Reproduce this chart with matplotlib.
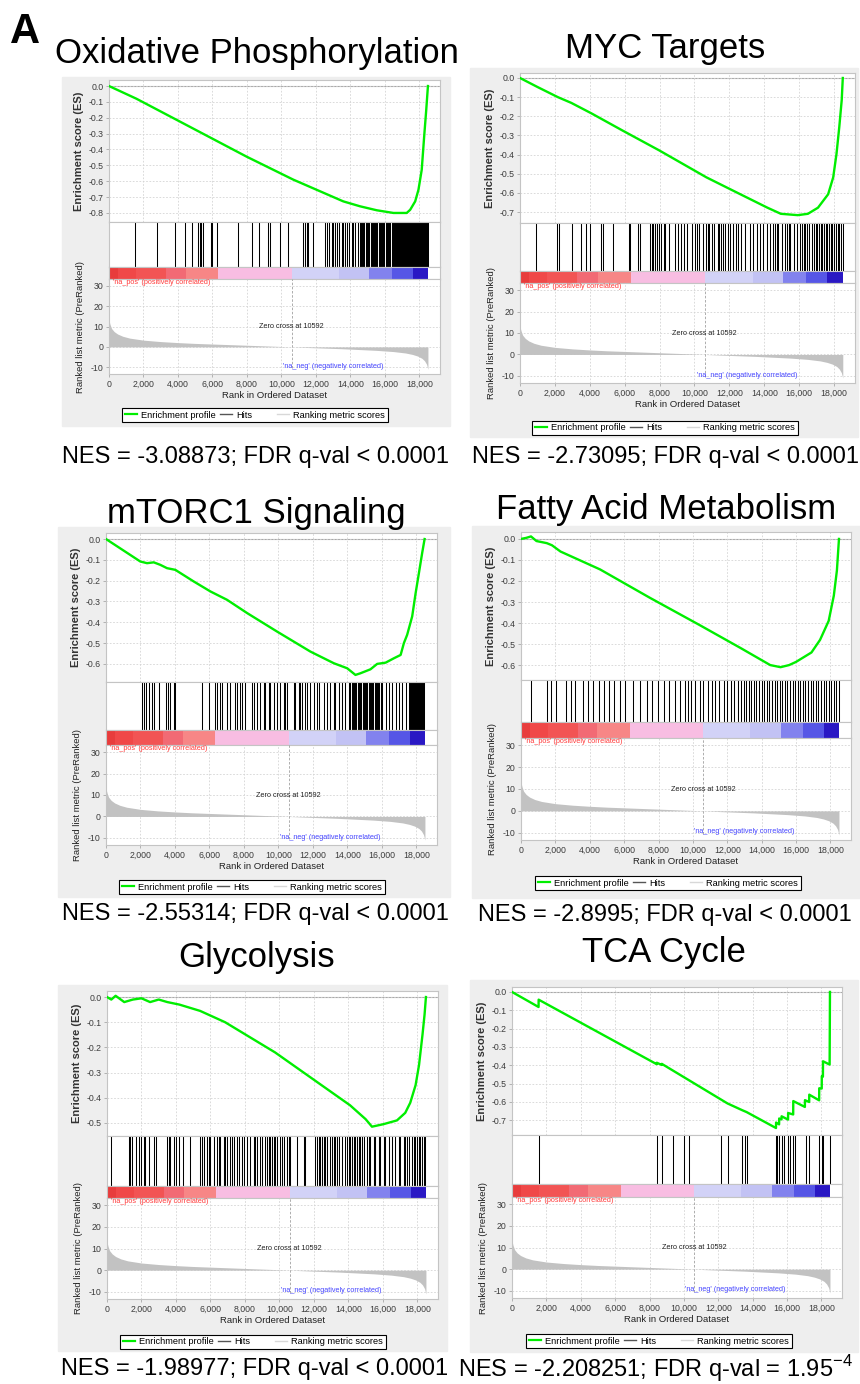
import matplotlib
matplotlib.use("Agg")
import numpy as np
import matplotlib.pyplot as plt
from matplotlib.lines import Line2D
from matplotlib.patches import Rectangle
from matplotlib.ticker import FuncFormatter

plt.rcParams["font.family"] = ["Liberation Sans", "DejaVu Sans"]
plt.rcParams["axes.unicode_minus"] = False
plt.rcParams["mathtext.fontset"] = "custom"
plt.rcParams["mathtext.rm"] = "Liberation Sans"

W, H = 860, 1384

# ranked list shared by every gene set
N_GENES = 18500
ZERO_CROSS = 10592
RANK_TICKS = [0, 2000, 4000, 6000, 8000, 10000, 12000, 14000, 16000, 18000]
METRIC_TICKS = [30, 20, 10, 0, -10]
metric_rank = [0, 60, 150, 300, 500, 800, 1200, 2000, 3000, 4000, 5000, 6000, 7000,
               8000, 9000, 10000, 10592, 11500, 12500, 13500, 14500, 15500, 16500,
               17200, 17600, 17900, 18150, 18300, 18420, 18500]
metric_value = [13.0, 11.0, 9.0, 7.5, 6.3, 5.2, 4.3, 3.3, 2.6, 2.1, 1.7, 1.4, 1.1,
                0.8, 0.5, 0.2, 0.0, -0.3, -0.6, -0.9, -1.3, -1.7, -2.3,
                -3.0, -3.7, -4.5, -5.6, -6.8, -8.5, -11.0]

# heat bar under the hits
bar_edges = [0, 520, 1550, 3290, 4450, 6350, 10592, 13350, 15100, 16400, 17620, 18500]
bar_colors = ["#e83c3c", "#f04848", "#f25454", "#f26a74", "#f78686", "#f8bde2",
              "#d2d2f7", "#c2c2f4", "#8282ee", "#5656e6", "#2a18c4"]

# ---- Oxidative Phosphorylation ----
oxphos_es_rank = [0, 1590, 4690, 7980, 10690, 13590, 14560, 15530, 16500, 17270,
                  17470, 17760, 17950, 18140, 18280, 18400, 18500]
oxphos_es = [0.0, -0.08, -0.257, -0.445, -0.59, -0.727, -0.758, -0.783, -0.80, -0.80,
             -0.78, -0.727, -0.654, -0.528, -0.32, -0.153, 0.0]
oxphos_hits = [1490, 2790, 3850, 4430, 4840, 5170, 5270, 5360, 5460, 5910, 5980, 6270,
               7460, 8310, 8710, 9240, 9330, 9910, 10360, 11270, 11370, 11460, 11560,
               11810, 12530, 12630, 12780, 12920, 13010, 13110, 13210, 13360, 13500,
               13590, 13690, 13790, 13940, 14080, 14180, 14270, 14470, 14540, 14600,
               14680, 14750, 14810, 14900, 14960, 15030, 15100, 15170, 15230, 15300,
               15380, 15440, 15500, 15570, 15640, 15700, 15780, 15850, 15910, 15980,
               16050, 16120, 16180, 16250, 16320, 16390, 16450, 16520, 16580, 16640,
               16700, 16760, 16810, 16870, 16920, 16980, 17030, 17080, 17140, 17190,
               17240, 17300, 17350, 17400, 17450, 17500, 17550, 17600, 17650, 17700,
               17750, 17800, 17850, 17900, 17950, 18000, 18050, 18100, 18150, 18200,
               18250, 18300, 18350, 18400, 18450, 18500]

# ---- MYC Targets ----
myc_es_rank = [0, 1000, 2170, 2940, 4100, 5850, 7980, 10690, 12630, 14180, 14950,
               15920, 16500, 17080, 17660, 17950, 18140, 18300, 18440, 18500]
myc_es = [0.0, -0.047, -0.10, -0.13, -0.185, -0.273, -0.378, -0.519, -0.607, -0.677,
          -0.709, -0.716, -0.709, -0.677, -0.607, -0.519, -0.396, -0.255, -0.114, 0.0]
myc_hits = [930, 2130, 2230, 3000, 3490, 3780, 4030, 4650, 4740, 5330, 6240, 6330,
            6780, 6870, 7460, 7550, 7650, 7750, 7840, 7940, 8090, 8230, 8330, 8520,
            8910, 9060, 9200, 9390, 9590, 9880, 10030, 10170, 10260, 10460, 10650,
            10750, 10840, 10980, 11130, 11330, 11430, 11520, 11660, 11770, 11910,
            12010, 12200, 12390, 12490, 12680, 12880, 13170, 13360, 13560, 13750,
            13940, 14140, 14330, 14480, 14620, 14720, 14810, 15010, 15200, 15300,
            15400, 15490, 15690, 15880, 16070, 16170, 16270, 16360, 16460, 16560,
            16750, 16850, 16940, 17040, 17140, 17240, 17330, 17430, 17530, 17620,
            17720, 17820, 17910, 18010, 18110, 18200, 18300, 18400, 18490]

# ---- mTORC1 Signaling ----
mtorc1_es_rank = [0, 1990, 2380, 2770, 3150, 3540, 4020, 5090, 6060, 7020, 8190,
                  9930, 11860, 13220, 13990, 14470, 14760, 15340, 15730, 16220, 16700,
                  17090, 17280, 17470, 17760, 17960, 18150, 18340, 18480]
mtorc1_es = [0.0, -0.108, -0.116, -0.112, -0.124, -0.14, -0.148, -0.204, -0.252,
             -0.292, -0.356, -0.445, -0.541, -0.597, -0.621, -0.653, -0.645, -0.626,
             -0.60, -0.594, -0.573, -0.557, -0.50, -0.46, -0.372, -0.26, -0.164,
             -0.067, 0.0]
mtorc1_hits = [2090, 2190, 2340, 2480, 2670, 2770, 3060, 3500, 3580, 3730, 3930, 4020,
               5570, 5960, 6350, 6440, 6600, 6730, 7020, 7220, 7510, 7600, 7800, 7890,
               8090, 8480, 8570, 8770, 8960, 9150, 9250, 9440, 9540, 9730, 9930, 10120,
               10310, 10410, 10510, 10890, 10990, 11180, 11280, 11380, 11570, 11670,
               11860, 12060, 12250, 12350, 12640, 12830, 13020, 13220, 13310, 13510,
               13700, 13890, 14090, 14180, 14250, 14320, 14390, 14460, 14530, 14600,
               14670, 14740, 14810, 14880, 14950, 15020, 15090, 15160, 15230, 15300,
               15370, 15440, 15510, 15580, 15650, 15720, 15790, 15860, 15930, 16020,
               16220, 16410, 16600, 16800, 16990, 17180, 17380, 17570, 17630, 17690,
               17750, 17810, 17870, 17930, 17990, 18050, 18110, 18170, 18230, 18290,
               18350, 18410, 18470]

# ---- Fatty Acid Metabolism ----
fatty_es_rank = [0, 300, 580, 900, 1500, 1800, 2300, 4600, 7500, 10400, 12800, 14500,
                 15100, 15600, 16000, 16500, 16900, 17400, 17900, 18200, 18380, 18500]
fatty_es = [0.0, 0.005, 0.012, -0.01, -0.02, -0.03, -0.06, -0.145, -0.28, -0.41, -0.52,
            -0.60, -0.61, -0.60, -0.585, -0.56, -0.54, -0.48, -0.39, -0.27, -0.15, 0.0]
fatty_hits = [580, 1510, 1750, 2040, 2620, 2910, 3140, 3610, 3900, 4190, 4540, 4830,
              5120, 5410, 5760, 6050, 6520, 6920, 7330, 7620, 7970, 8320, 8610, 8960,
              9250, 9540, 9700, 9900, 10100, 10400, 10600, 10900, 11100, 11300, 11500,
              11800, 12000, 12200, 12400, 12600, 12800, 12950, 13100, 13250, 13400,
              13550, 13700, 13850, 14000, 14150, 14300, 14450, 14600, 14750, 14900,
              15050, 15200, 15350, 15500, 15650, 15800, 15950, 16100, 16250, 16400,
              16550, 16700, 16850, 17000, 17150, 17300, 17450, 17600, 17750, 17900,
              18050, 18200, 18350, 18480]

# ---- Glycolysis ----
glyco_es_rank = [0, 250, 500, 1000, 1500, 2000, 2500, 3000, 3500, 4200, 5400, 6850,
                 8300, 9750, 11200, 12650, 14100, 15000, 15370, 16040, 16820,
                 17300, 17590, 17900, 18100, 18300, 18420, 18500]
glyco_es = [0.0, -0.01, 0.005, -0.02, -0.01, -0.005, -0.02, -0.01, -0.02, -0.03,
            -0.055, -0.10, -0.16, -0.22, -0.29, -0.36, -0.43, -0.485, -0.515,
            -0.505, -0.49, -0.46, -0.42, -0.35, -0.27, -0.15, -0.07, 0.0]
glyco_hits = [250, 1260, 1350, 1450, 1700, 1840, 1970, 2130, 2220, 2420, 2710, 2860,
              3480, 3580, 3670, 3870, 4020, 4160, 4410, 4790, 5370, 5510, 5610, 5800,
              5900, 5990, 6190, 6380, 6480, 6570, 6770, 6860, 6960, 7150, 7250, 7350,
              7540, 7640, 7830, 7930, 8120, 8310, 8510, 8600, 8700, 8850, 8990, 9180,
              9280, 9380, 9470, 9570, 9670, 9760, 9860, 10050, 10150, 10250, 10440,
              10540, 10630, 11020, 11410, 11500, 12080, 12180, 12280, 12370, 12470,
              12570, 12660, 12760, 12950, 13050, 13150, 13240, 13340, 13440, 13630,
              13820, 13920, 14020, 14110, 14210, 14300, 14400, 14500, 14600, 14690,
              14790, 14890, 15080, 15170, 15270, 15460, 15560, 15750, 15850, 16040,
              16140, 16330, 16530, 16720, 16910, 17010, 17200, 17300, 17400, 17490,
              17690, 17780, 17880, 17980, 18070, 18170, 18270, 18360, 18460]

# ---- TCA Cycle ----
tca_es_rank = [0, 1545, 1550, 8420, 8425, 8710, 8715, 12540, 13400, 13650, 15360,
               15365, 15540, 15545, 15680, 15685, 16060, 16065, 16360, 16365, 17040,
               17045, 17290, 17295, 17870, 17875, 18020, 18025, 18090, 18095, 18480,
               18500]
tca_es = [0.0, -0.082, -0.042, -0.394, -0.386, -0.398, -0.392, -0.608, -0.645, -0.655,
          -0.742, -0.712, -0.722, -0.69, -0.695, -0.678, -0.696, -0.66, -0.668, -0.595,
          -0.627, -0.59, -0.60, -0.56, -0.591, -0.525, -0.527, -0.46, -0.462, -0.378,
          -0.396, 0.0]
tca_hits = [1550, 8430, 8720, 9360, 9980, 10270, 12150, 12550, 13410, 13560, 13700,
            15360, 15440, 15550, 15690, 15850, 16080, 16180, 16370, 16470, 17090,
            17300, 17880, 18020, 18110, 18500]

titles = ["Oxidative Phosphorylation", "MYC Targets", "mTORC1 Signaling",
          "Fatty Acid Metabolism", "Glycolysis", "TCA Cycle"]
nes_labels = ["NES = -3.08873; FDR q-val < 0.0001",
              "NES = -2.73095; FDR q-val < 0.0001",
              "NES = -2.55314; FDR q-val < 0.0001",
              "NES = -2.8995; FDR q-val < 0.0001",
              "NES = -1.98977; FDR q-val < 0.0001",
              r"NES = -2.208251; FDR q-val = 1.95$^{\mathregular{-4}}$"]
es_ranks = [oxphos_es_rank, myc_es_rank, mtorc1_es_rank, fatty_es_rank,
            glyco_es_rank, tca_es_rank]
es_values = [oxphos_es, myc_es, mtorc1_es, fatty_es, glyco_es, tca_es]
hit_sets = [oxphos_hits, myc_hits, mtorc1_hits, fatty_hits, glyco_hits, tca_hits]
es_lowest_tick = [-0.8, -0.7, -0.6, -0.6, -0.5, -0.7]

# pixel layout of each panel
layouts = [
    dict(box=(62, 77, 450, 426), x=(109, 440), es=(80, 222), hits=267, bar=279,
         met=374, legend=(255, 415), title=(257, 63), nes=(255, 463),
         ylim=(-0.857, 0.038)),
    dict(box=(470, 68, 858, 437), x=(520, 855), es=(73, 223), hits=271, bar=283,
         met=383, legend=(665, 428), title=(665, 58), nes=(665, 463),
         ylim=(-0.757, 0.026)),
    dict(box=(58, 527, 450, 897), x=(106, 437), es=(533, 682), hits=730, bar=745,
         met=845, legend=(252, 887), title=(256, 523), nes=(255, 920),
         ylim=(-0.687, 0.029)),
    dict(box=(472, 526, 860, 898), x=(521, 851), es=(532, 680), hits=722, bar=738,
         met=840, legend=(668, 883), title=(666, 519), nes=(665, 921),
         ylim=(-0.671, 0.033)),
    dict(box=(58, 985, 447, 1351), x=(107, 438), es=(991, 1136), hits=1186, bar=1198,
         met=1299, legend=(253, 1342), title=(257, 967), nes=(255, 1375),
         ylim=(-0.552, 0.024)),
    dict(box=(470, 980, 858, 1352), x=(512, 842), es=(987, 1135), hits=1184, bar=1197,
         met=1298, legend=(659, 1341), title=(664, 962), nes=(655, 1377),
         ylim=(-0.78, 0.027)),
]

XLIM = (0, 19200)
GRID = dict(color="#d4d4d4", linestyle=(0, (2, 2)), linewidth=0.6)
SPINE = "#c4c4c4"
TICK_TXT = "#3c3c3c"


def rect(l, t, r, b):
    return [l / W, 1 - b / H, (r - l) / W, (b - t) / H]


def style_axes(ax):
    for s in ax.spines.values():
        s.set_color(SPINE)
        s.set_linewidth(0.8)
    ax.tick_params(labelsize=6.3, labelcolor=TICK_TXT, length=2, width=0.5,
                   color="#9a9a9a", pad=2)
    ax.set_xlim(*XLIM)


def draw_panel(fig, lay, title, nes, es_x, es_y, hits, low_tick):
    bl, bt, br, bb = lay["box"]
    fig.add_artist(Rectangle((bl / W, 1 - bb / H), (br - bl) / W, (bb - bt) / H,
                             transform=fig.transFigure, color="#eeeeee", zorder=0))
    xl, xr = lay["x"]
    es_top, es_bot = lay["es"]

    # running enrichment score
    ax = fig.add_axes(rect(xl, es_top, xr, es_bot))
    style_axes(ax)
    ax.set_ylim(*lay["ylim"])
    ax.set_yticks(np.round(np.arange(0, low_tick - 0.05, -0.1), 1))
    ax.yaxis.set_major_formatter(FuncFormatter(lambda v, p: f"{v:.1f}"))
    ax.set_xticks(RANK_TICKS)
    ax.tick_params(axis="x", labelbottom=False, length=0)
    ax.grid(True, **GRID)
    ax.axhline(0, color="#a8a8a8", linewidth=0.8, zorder=1)
    ax.plot(es_x, es_y, color="#00ee00", linewidth=1.7, zorder=3)
    ax.set_ylabel("Enrichment score (ES)", fontsize=8, fontweight="bold",
                  color="#333333", labelpad=3)

    # gene set members along the ranking
    axh = fig.add_axes(rect(xl, es_bot, xr, lay["hits"]))
    style_axes(axh)
    axh.vlines(hits, 0, 1, color="black", linewidth=0.75)
    axh.set_ylim(0, 1)
    axh.set_xticks([])
    axh.set_yticks([])

    axb = fig.add_axes(rect(xl, lay["hits"], xr, lay["bar"]))
    style_axes(axb)
    for e0, e1, c in zip(bar_edges[:-1], bar_edges[1:], bar_colors):
        axb.axvspan(e0, e1, color=c, linewidth=0)
    axb.set_xticks([])
    axb.set_yticks([])

    # ranked list metric
    axm = fig.add_axes(rect(xl, lay["bar"], xr, lay["met"]))
    style_axes(axm)
    axm.set_ylim(-13.3, 33.3)
    axm.set_yticks(METRIC_TICKS)
    axm.set_xticks(RANK_TICKS)
    axm.xaxis.set_major_formatter(FuncFormatter(lambda v, p: f"{int(v):,}"))
    axm.grid(True, **GRID)
    axm.fill_between(metric_rank, metric_value, 0, color="#c2c2c2", linewidth=0,
                     zorder=2)
    axm.vlines(ZERO_CROSS, -10.5, 33.3, color="#a0a0a0", linewidth=0.6,
               linestyles=(0, (3, 2)), zorder=3)
    axm.text(250, 31.5, "'na_pos' (positively correlated)", color="#ff3a3a",
             fontsize=5.2, va="center", ha="left")
    axm.text(ZERO_CROSS, 9.8, "Zero cross at 10592", color="#222222", fontsize=5.2,
             ha="center", va="center")
    axm.text(13000, -9.6, "'na_neg' (negatively correlated)", color="#4646ff",
             fontsize=5.2, ha="center", va="center")
    axm.set_xlabel("Rank in Ordered Dataset", fontsize=6.8, color="#222222",
                   labelpad=2)
    axm.set_ylabel("Ranked list metric (PreRanked)", fontsize=6.8, color="#222222",
                   labelpad=4)

    handles = [Line2D([], [], color="#00ee00", linewidth=1.6),
               Line2D([], [], color="#555555", linewidth=1.0),
               Line2D([], [], color="white", linewidth=1.0),
               Line2D([], [], color="#d8d8d8", linewidth=1.0)]
    labels = ["Enrichment profile", "Hits", "", "Ranking metric scores"]
    lx, ly = lay["legend"]
    leg = fig.legend(handles, labels, loc="center", bbox_to_anchor=(lx / W, 1 - ly / H),
                     ncol=4, fontsize=6.7, frameon=True, fancybox=False,
                     edgecolor="black", facecolor="white", framealpha=1,
                     handlelength=1.3, handletextpad=0.4, columnspacing=0.5,
                     borderpad=0.3, borderaxespad=0)
    leg.get_frame().set_linewidth(0.8)

    tx, ty = lay["title"]
    fig.text(tx / W, 1 - ty / H, title, fontsize=25, ha="center", va="baseline")
    nx, ny = lay["nes"]
    fig.text(nx / W, 1 - ny / H, nes, fontsize=17, ha="center", va="baseline")


fig = plt.figure(figsize=(W / 100, H / 100), dpi=100)
fig.patch.set_facecolor("white")
for i in range(6):
    draw_panel(fig, layouts[i], titles[i], nes_labels[i], es_ranks[i], es_values[i],
               hit_sets[i], es_lowest_tick[i])

fig.text(10 / W, 1 - 43 / H, "A", fontsize=30, fontweight="bold", ha="left",
         va="baseline")

fig.savefig("out.png", dpi=100)
